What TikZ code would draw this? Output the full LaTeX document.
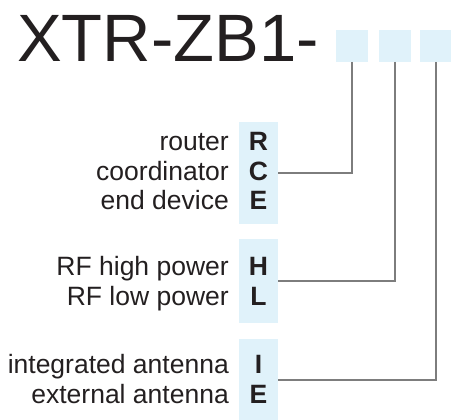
\documentclass[tikz,border=0pt]{standalone}
\usepackage{fontspec}
\setmainfont{Liberation Sans}
\definecolor{boxblue}{HTML}{E0F2FA}
\definecolor{linegray}{HTML}{7D7D7D}
\definecolor{ink}{HTML}{231F20}
\begin{document}
\begin{tikzpicture}[x=1pt,y=-1pt,
  lbl/.style={anchor=base east, inner sep=0, text=ink, font=\fontsize{26.5}{28}\selectfont},
  code/.style={anchor=base, inner sep=0, text=ink, font=\fontsize{26.5}{28}\selectfont\bfseries},
  codebox/.style={fill=boxblue, draw=none, inner sep=0, outer sep=0, minimum width=39pt},
  slot/.style={fill=boxblue, draw=none, inner sep=0, outer sep=0, minimum width=32pt, minimum height=32pt},
  conn/.style={draw=linegray, line width=1.2pt}]
\useasboundingbox (0,0) rectangle (451,420);
% title
\node[anchor=base west, inner sep=0, text=ink, font=\fontsize{67}{70}\selectfont] (title) at (17,62) {XTR-ZB1-};
% slots
\node[slot] (s1) at (352,46) {};
\node[slot] (s2) at (395,46) {};
\node[slot] (s3) at (436,46) {};
% code boxes
\node[codebox, minimum height=102pt] (b1) at (258.5,173) {};
\node[codebox, minimum height=84pt] (b2) at (258.5,281) {};
\node[codebox, minimum height=82pt] (b3) at (258.5,380) {};
% group 1
\node[code] (cR) at (258.5,151) {R};
\node[code] (cC) at (258.5,180.5) {C};
\node[code] (cE) at (258.5,210) {E};
\node[lbl] (lR) at (229,151) {router};
\node[lbl] (lC) at (229,180.5) {coordinator};
\node[lbl] (lE) at (229,210) {end device};
% group 2
\node[code] (cH) at (258.5,276) {H};
\node[code] (cL) at (258.5,305.5) {L};
\node[lbl] (lH) at (229,276) {RF high power};
\node[lbl] (lL) at (229,305.5) {RF low power};
% group 3
\node[code] (cI) at (258.5,373.5) {I};
\node[code] (cE2) at (258.5,403) {E};
\node[lbl] (lI) at (229,373.5) {integrated antenna};
\node[lbl] (lE2) at (229,403) {external antenna};
% connectors
\draw[conn] (s1.south) |- (b1.east);
\draw[conn] (s2.south) |- (b2.east);
\draw[conn] (s3.south) |- (b3.east);
\end{tikzpicture}
\end{document}
